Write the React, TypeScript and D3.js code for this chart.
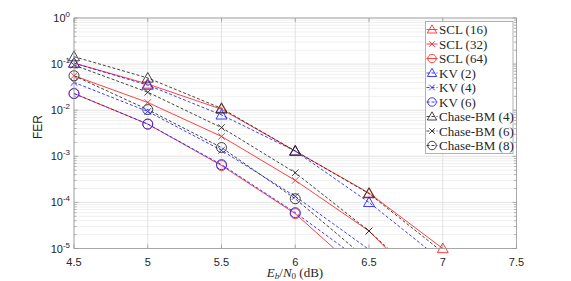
import React from 'react';
import * as d3 from 'd3';

// Eb/N0 points (dB)
const ebn0 = [4.5, 5, 5.5, 6, 6.5, 7];

// FER per decoder
const scl16 = [0.105, 0.037, 0.0105, 1.3e-3, 1.6e-4, 1.0e-5];
const scl32 = [0.056, 0.0147, 2.7e-3, 3.0e-4, 2.4e-5, 5.6e-7];
const scl64 = [0.023, 5.0e-3, 6.3e-4, 5.7e-5, 2.1e-6];
const kv2 = [0.105, 0.035, 7.9e-3, 1.3e-3, 1.0e-4, 5.3e-6];
const kv4 = [0.04, 9.4e-3, 1.35e-3, 1.35e-4, 9.5e-6, 5e-7];
const kv6 = [0.023, 5.0e-3, 6.6e-4, 6.0e-5, 4.1e-6];
const chase4 = [0.145, 0.05, 0.011, 1.3e-3, 1.55e-4, 8.3e-6];
const chase6 = [0.095, 0.0246, 4.2e-3, 4.4e-4, 2.4e-5, 8e-7];
const chase8 = [0.056, 0.0103, 1.55e-3, 1.2e-4, 5.4e-6];

const xTicks = [4.5, 5, 5.5, 6, 6.5, 7, 7.5];
const yExps = [0, -1, -2, -3, -4, -5];

type Marker = 'tri' | 'x' | 'circle';
interface Series { name: string; values: number[]; color: string; dash: string | null; marker: Marker }

const RED = '#ff2020';
const BLUE = '#1a1aff';
const BLACK = '#222222';

const series: Series[] = [
  { name: 'SCL (16)', values: scl16, color: RED, dash: null, marker: 'tri' },
  { name: 'SCL (32)', values: scl32, color: RED, dash: null, marker: 'x' },
  { name: 'SCL (64)', values: scl64, color: RED, dash: null, marker: 'circle' },
  { name: 'KV (2)', values: kv2, color: BLUE, dash: '3,2', marker: 'tri' },
  { name: 'KV (4)', values: kv4, color: BLUE, dash: '3,2', marker: 'x' },
  { name: 'KV (6)', values: kv6, color: BLUE, dash: '3,2', marker: 'circle' },
  { name: 'Chase-BM (4)', values: chase4, color: BLACK, dash: '3,2', marker: 'tri' },
  { name: 'Chase-BM (6)', values: chase6, color: BLACK, dash: '3,2', marker: 'x' },
  { name: 'Chase-BM (8)', values: chase8, color: BLACK, dash: '3,2', marker: 'circle' },
];

const W = 571;
const H = 281;
const left = 74;
const right = 516.5;
const top = 18;
const bottom = 248.5;

const x = d3.scaleLinear().domain([4.5, 7.5]).range([left, right]);
const y = d3.scaleLog().domain([1e-5, 1]).range([bottom, top]);

const markerPath = (m: Marker, cx: number, cy: number, k = 1) => {
  if (m === 'tri') {
    const s = 5.5 * k;
    return `M${cx},${cy - s}L${cx + s},${cy + s * 0.75}L${cx - s},${cy + s * 0.75}Z`;
  }
  if (m === 'x') {
    const s = 3.3 * k;
    return `M${cx - s},${cy - s}L${cx + s},${cy + s}M${cx - s},${cy + s}L${cx + s},${cy - s}`;
  }
  const r = 5 * k;
  return `M${cx - r},${cy}a${r},${r} 0 1,0 ${2 * r},0a${r},${r} 0 1,0 ${-2 * r},0`;
};

const App: React.FC = () => {
  const minorVals: number[] = [];
  for (let e = -5; e < 0; e++) {
    for (let k = 2; k <= 9; k++) minorVals.push(k * Math.pow(10, e));
  }

  const line = d3.line<[number, number]>()
    .x(d => x(d[0]))
    .y(d => y(d[1]));

  const legX = 425.5;
  const legY = 21.5;
  const legW = 87.5;
  const legH = 132;
  const rowH = 14.5;

  return (
    <svg width={W} height={H} style={{ position: 'absolute', left: 0, top: 0, background: '#fff' }}>
      <defs>
        <clipPath id="plot-clip">
          <rect x={left} y={top} width={right - left} height={bottom - top} />
        </clipPath>
      </defs>
      <rect x={0} y={0} width={W} height={H} fill="#fff" />

      {/* grid */}
      {minorVals.map((v, i) => (
        <line key={'mg' + i} x1={left} x2={right} y1={y(v)} y2={y(v)} stroke="#f0f0f0" strokeWidth={1} />
      ))}
      {yExps.map(e => (
        <line key={'yg' + e} x1={left} x2={right} y1={y(Math.pow(10, e))} y2={y(Math.pow(10, e))} stroke="#e2e2e2" strokeWidth={1} />
      ))}
      {xTicks.map(t => (
        <line key={'xg' + t} x1={x(t)} x2={x(t)} y1={top} y2={bottom} stroke="#e2e2e2" strokeWidth={1} />
      ))}

      {/* series lines */}
      <g clipPath="url(#plot-clip)">
        {series.map(s => (
          <path
            key={'l' + s.name}
            d={line(s.values.map((v, i) => [ebn0[i], v] as [number, number])) || ''}
            fill="none"
            stroke={s.color}
            strokeWidth={0.85}
            strokeDasharray={s.dash || undefined}
          />
        ))}
      </g>

      {/* markers */}
      {series.map(s => (
        <g key={'m' + s.name}>
          {s.values.map((v, i) => (v >= 0.99e-5 ? (
            <path key={i} d={markerPath(s.marker, x(ebn0[i]), y(v))} fill="none" stroke={s.color} strokeWidth={0.85} />
          ) : null))}
        </g>
      ))}

      {/* axes box */}
      <rect x={left} y={top} width={right - left} height={bottom - top} fill="none" stroke="#9a9a9a" strokeWidth={0.8} />
      {xTicks.map(t => (
        <g key={'xt' + t}>
          <line x1={x(t)} x2={x(t)} y1={bottom} y2={bottom - 4} stroke="#9a9a9a" strokeWidth={0.8} />
          <line x1={x(t)} x2={x(t)} y1={top} y2={top + 4} stroke="#9a9a9a" strokeWidth={0.8} />
          <text x={x(t)} y={266} textAnchor="middle" fontFamily="Liberation Sans, Arial, sans-serif" fontSize={11} fill="#262626">{t}</text>
        </g>
      ))}
      {minorVals.map((v, i) => (
        <g key={'mt' + i}>
          <line x1={left} x2={left + 2.5} y1={y(v)} y2={y(v)} stroke="#9a9a9a" strokeWidth={0.7} />
          <line x1={right} x2={right - 2.5} y1={y(v)} y2={y(v)} stroke="#9a9a9a" strokeWidth={0.7} />
        </g>
      ))}
      {yExps.map(e => (
        <g key={'yt' + e}>
          <line x1={left} x2={left + 4} y1={y(Math.pow(10, e))} y2={y(Math.pow(10, e))} stroke="#9a9a9a" strokeWidth={0.8} />
          <line x1={right} x2={right - 4} y1={y(Math.pow(10, e))} y2={y(Math.pow(10, e))} stroke="#9a9a9a" strokeWidth={0.8} />
          <text x={70} y={y(Math.pow(10, e)) + 4} textAnchor="end" fontFamily="Liberation Sans, Arial, sans-serif" fontSize={11} fill="#262626">
            10<tspan dy={-5} fontSize={8}>{e === 0 ? '0' : String(e)}</tspan>
          </text>
        </g>
      ))}

      {/* axis labels */}
      <text transform="translate(42,127) rotate(-90)" textAnchor="middle" fontFamily="Liberation Sans, Arial, sans-serif" fontSize={12} fill="#262626">FER</text>
      <text x={295} y={277} textAnchor="middle" fontFamily="Liberation Serif, DejaVu Serif, serif" fontSize={13} fill="#262626">
        <tspan fontStyle="italic">E</tspan><tspan fontStyle="italic" fontSize={9} dy={2}>b</tspan>
        <tspan dy={-2}>/</tspan><tspan fontStyle="italic">N</tspan><tspan fontSize={9} dy={2}>0</tspan>
        <tspan dy={-2}> (dB)</tspan>
      </text>

      {/* legend */}
      <rect x={legX} y={legY} width={legW} height={legH} fill="#fff" stroke="#a0a0a0" strokeWidth={0.8} />
      {series.map((s, i) => {
        const cy = legY + 8 + i * rowH;
        return (
          <g key={'lg' + s.name}>
            <line x1={legX + 1} x2={legX + 12} y1={cy} y2={cy} stroke={s.color} strokeWidth={0.85} strokeDasharray={s.dash || undefined} />
            <path d={markerPath(s.marker, legX + 6.5, cy, 0.85)} fill="none" stroke={s.color} strokeWidth={0.85} />
            <text x={legX + 13.5} y={cy + 4.5} fontFamily="Liberation Serif, DejaVu Serif, serif" fontSize={13} fill="#262626">{s.name}</text>
          </g>
        );
      })}
    </svg>
  );
};

export default App;
